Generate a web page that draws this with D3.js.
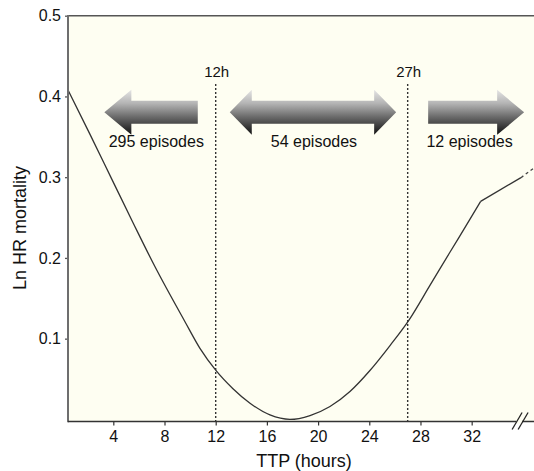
<!DOCTYPE html>
<html>
<head>
<meta charset="utf-8">
<script src="https://cdn.jsdelivr.net/npm/d3@7"></script>
<style>
  html, body { margin: 0; padding: 0; background: #ffffff; }
  svg { display: block; font-family: "Liberation Sans", Arial, Helvetica, sans-serif; }
</style>
</head>
<body>
<svg id="chart" width="534" height="471"></svg>
<script>
// ---- data ----
const curveHours  = [0.46, 2.18, 3.90, 5.56, 7.26, 9.60, 10.77, 12.0, 13.35, 14.68, 16.24, 17.80, 19.37, 20.93, 22.49, 24.05, 25.62, 27.10, 28.74, 30.30, 31.87, 32.70];
const curveValues = [0.408, 0.353, 0.297, 0.243, 0.189, 0.121, 0.088, 0.061, 0.038, 0.020, 0.0055, 0.000, 0.0048, 0.016, 0.0346, 0.0606, 0.0915, 0.123, 0.166, 0.207, 0.248, 0.270];
const linearHours  = [32.70, 35.85];
const linearValues = [0.270, 0.2994];
const dashedHours  = [35.85, 36.87];
const dashedValues = [0.2994, 0.3114];

const xTicks = [4, 8, 12, 16, 20, 24, 28, 32];
const yTicks = [0.1, 0.2, 0.3, 0.4, 0.5];

const cutoffHours  = [12, 27];
const cutoffLabels = ["12h", "27h"];

const arrowFrom   = [10.6, 13.1, 28.6];
const arrowTo     = [3.3, 26.1, 36.1];
const arrowDouble = [false, true, false];
const arrowLabels = ["295 episodes", "54 episodes", "12 episodes"];
const arrowLabelHours = [7.36, 19.68, 31.84];
const arrowLevel  = 0.3803;

(function () {
// ---- layout ----
const svg = d3.select("#chart");
const pLeft = 68, pRight = 534, pTop = 15.7, pBottom = 421.5;

const x = d3.scaleLinear().domain([0.46, 36.87]).range([pLeft, pRight]);
const y = d3.scaleLinear().domain([-0.0026, 0.5]).range([pBottom, pTop]);

// plot background
svg.append("rect")
  .attr("x", pLeft).attr("y", pTop)
  .attr("width", pRight - pLeft).attr("height", pBottom - pTop)
  .attr("fill", "#fefef2");

// gradient for arrows
const defs = svg.append("defs");
const grad = defs.append("linearGradient")
  .attr("id", "arrowGrad").attr("x1", 0).attr("y1", 0).attr("x2", 0).attr("y2", 1);
grad.append("stop").attr("offset", "0%").attr("stop-color", "#e4e4e4");
grad.append("stop").attr("offset", "30%").attr("stop-color", "#b4b4b4");
grad.append("stop").attr("offset", "62%").attr("stop-color", "#666666");
grad.append("stop").attr("offset", "100%").attr("stop-color", "#101010");

// cutoff dotted lines
cutoffHours.forEach((h, i) => {
  svg.append("line")
    .attr("x1", x(h)).attr("x2", x(h))
    .attr("y1", 84).attr("y2", pBottom)
    .attr("stroke", "#333").attr("stroke-width", 1.4)
    .attr("stroke-dasharray", "2,2");
  svg.append("text")
    .attr("x", x(h) + 1).attr("y", 76.5)
    .attr("text-anchor", "middle")
    .attr("font-size", 15).attr("fill", "#111")
    .text(cutoffLabels[i]);
});

// arrows
const shaftH = 23, headH = 45;
arrowFrom.forEach((a, i) => {
  const b = arrowTo[i];
  const cy = y(arrowLevel);
  const st = cy - shaftH / 2, sb = cy + shaftH / 2;
  const ht = cy - headH / 2, hb = cy + headH / 2;
  const xa = x(a), xb = x(b);
  const dir = xb > xa ? 1 : -1;
  const headL = arrowDouble[i] ? 22 : 27;
  let pts;
  if (arrowDouble[i]) {
    const l = Math.min(xa, xb), r = Math.max(xa, xb);
    pts = [[l, cy], [l + headL, ht], [l + headL, st], [r - headL, st], [r - headL, ht], [r, cy],
           [r - headL, hb], [r - headL, sb], [l + headL, sb], [l + headL, hb]];
  } else {
    const hx = xb - dir * headL;
    pts = [[xa, st], [hx, st], [hx, ht], [xb, cy], [hx, hb], [hx, sb], [xa, sb]];
  }
  svg.append("path")
    .attr("d", d3.line()(pts) + "Z")
    .attr("fill", "url(#arrowGrad)");
  svg.append("text")
    .attr("x", x(arrowLabelHours[i])).attr("y", 147)
    .attr("text-anchor", "middle")
    .attr("font-size", 16).attr("fill", "#111")
    .text(arrowLabels[i]);
});

// curve
svg.append("path")
  .datum(d3.zip(curveHours, curveValues))
  .attr("d", d3.line().x(d => x(d[0])).y(d => y(d[1])).curve(d3.curveMonotoneX))
  .attr("fill", "none").attr("stroke", "#333").attr("stroke-width", 1.3);
svg.append("path")
  .datum(d3.zip(linearHours, linearValues))
  .attr("d", d3.line().x(d => x(d[0])).y(d => y(d[1])))
  .attr("fill", "none").attr("stroke", "#333").attr("stroke-width", 1.3);
svg.append("path")
  .datum(d3.zip(dashedHours, dashedValues))
  .attr("d", d3.line().x(d => x(d[0])).y(d => y(d[1])))
  .attr("fill", "none").attr("stroke", "#444").attr("stroke-width", 1.3)
  .attr("stroke-dasharray", "3,3");

// top border
svg.append("line")
  .attr("x1", pLeft).attr("x2", pRight).attr("y1", pTop).attr("y2", pTop)
  .attr("stroke", "#555").attr("stroke-width", 1.5);

// y axis
const yAxis = svg.append("g")
  .attr("transform", `translate(${pLeft},0)`)
  .call(d3.axisLeft(y).tickValues(yTicks).tickSize(3).tickPadding(4).tickFormat(d3.format(".1f")));
yAxis.select(".domain").remove();
yAxis.selectAll(".tick line").attr("stroke", "#555").attr("stroke-width", 1.3);
yAxis.selectAll(".tick text").attr("font-size", 16).attr("fill", "#111")
  .attr("font-family", "Liberation Sans, Arial, sans-serif");
svg.append("line")
  .attr("x1", pLeft).attr("x2", pLeft).attr("y1", pTop - 0.7).attr("y2", pBottom + 0.7)
  .attr("stroke", "#6e6e6e").attr("stroke-width", 2);

// x axis
const xAxis = svg.append("g")
  .attr("transform", `translate(0,${pBottom})`)
  .call(d3.axisBottom(x).tickValues(xTicks).tickSize(4).tickPadding(5).tickFormat(d3.format("d")));
xAxis.select(".domain").remove();
xAxis.selectAll(".tick line").attr("stroke", "#333").attr("stroke-width", 1.2);
xAxis.selectAll(".tick text").attr("font-size", 16).attr("fill", "#111")
  .attr("font-family", "Liberation Sans, Arial, sans-serif");
svg.append("line")
  .attr("x1", pLeft).attr("x2", pRight).attr("y1", pBottom).attr("y2", pBottom)
  .attr("stroke", "#333").attr("stroke-width", 1.5);

// axis break marks
const bx = x(35.55);
svg.append("rect").attr("x", bx - 1).attr("y", pBottom - 2).attr("width", 6).attr("height", 4).attr("fill", "#fefef2");
[0, 6].forEach(off => {
  svg.append("line")
    .attr("x1", bx - 5 + off).attr("y1", pBottom + 8)
    .attr("x2", bx + 5 + off).attr("y2", pBottom - 9)
    .attr("stroke", "#222").attr("stroke-width", 1.3);
});

// axis titles
svg.append("text")
  .attr("x", 304).attr("y", 466.5)
  .attr("text-anchor", "middle").attr("font-size", 18).attr("fill", "#111")
  .text("TTP (hours)");
svg.append("text")
  .attr("transform", "translate(26,228) rotate(-90)")
  .attr("text-anchor", "middle").attr("font-size", 18).attr("fill", "#111")
  .text("Ln HR mortality");
})();
</script>
</body>
</html>
